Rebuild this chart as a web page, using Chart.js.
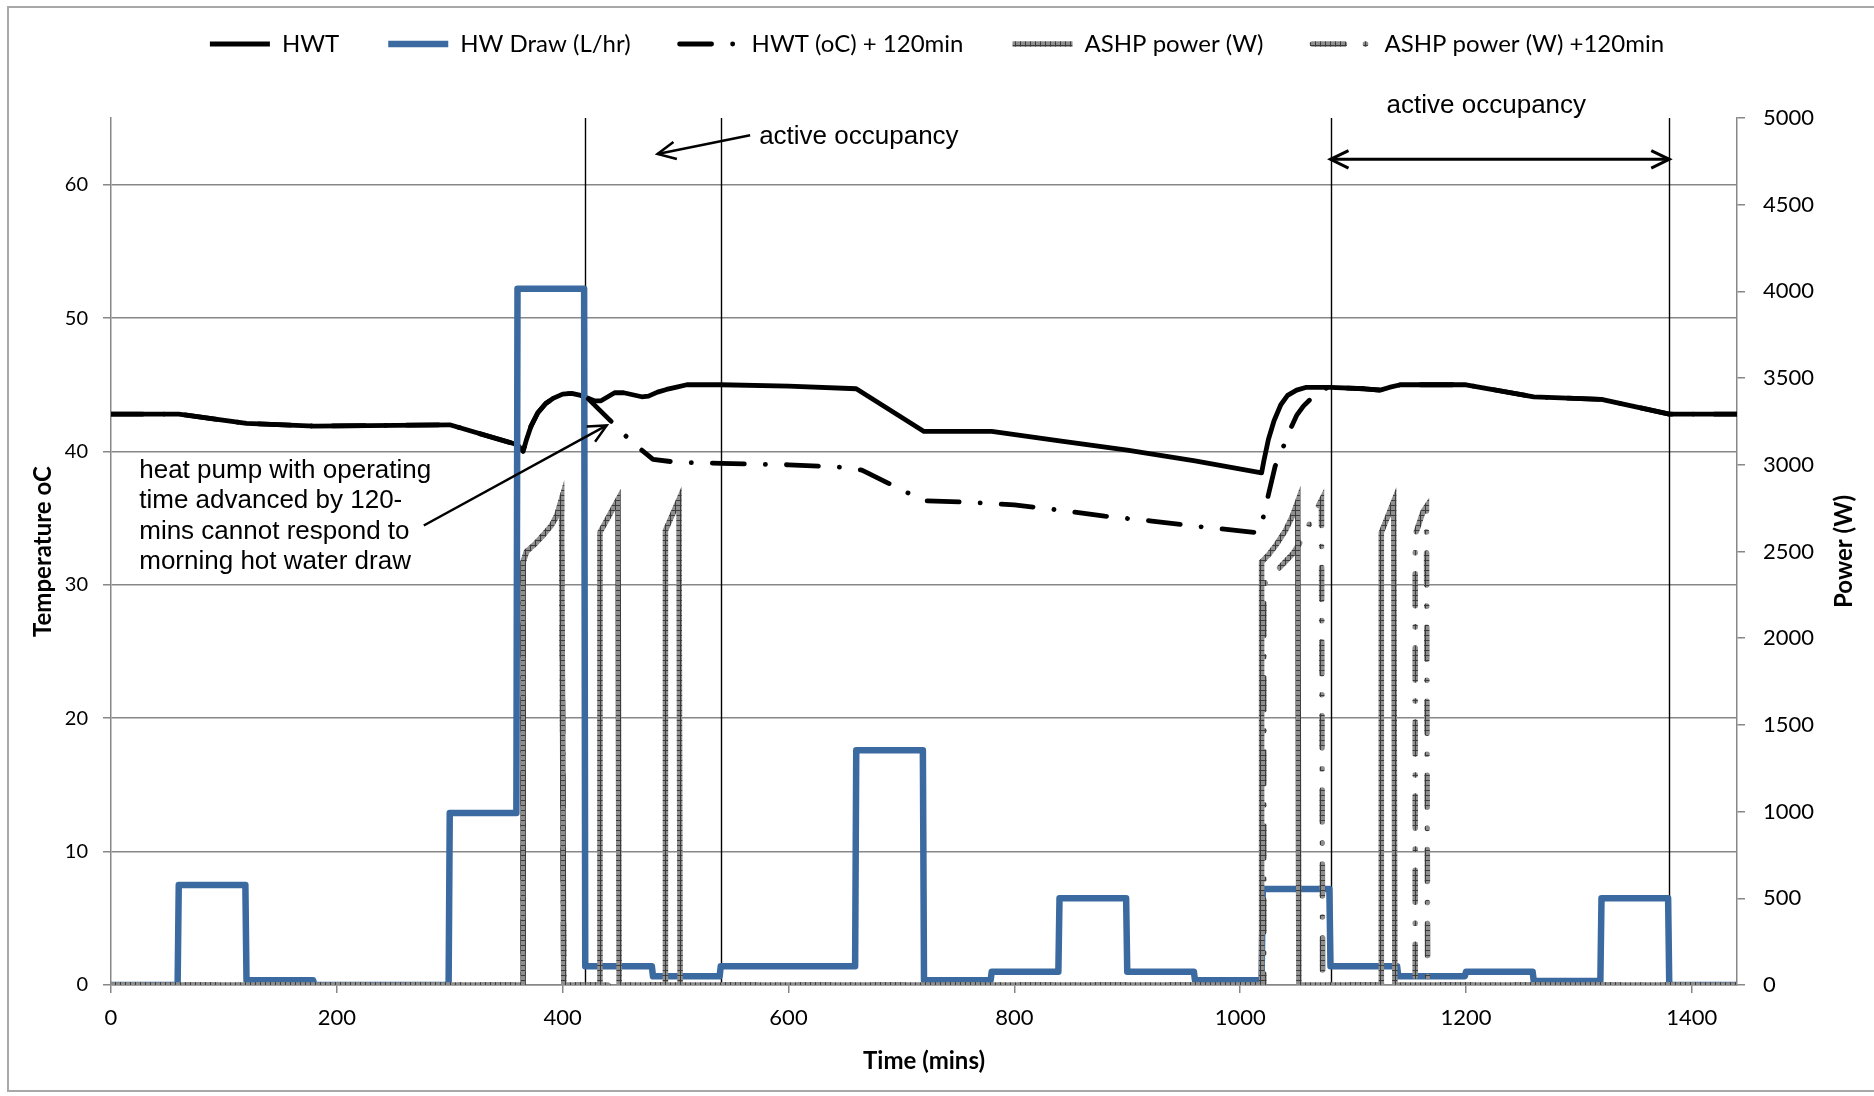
<!DOCTYPE html>
<html>
<head>
<meta charset="utf-8">
<title>Hot water tank temperature and ASHP power</title>
<script src="https://cdn.jsdelivr.net/npm/chart.js@4.4.1/dist/chart.umd.min.js"></script>
<style>
  html, body { margin: 0; padding: 0; background: #fff; }
  #wrap { width: 1874px; height: 1096px; }
</style>
</head>
<body>
<div id="wrap"><canvas id="hwtChart" width="1874" height="1096"></canvas></div>
<script>
// hot water tank temperature (oC) against time of day (mins)
const hwtMins = [0, 60, 120, 180, 300, 360, 365, 368, 372, 378, 385, 392, 400, 408, 416, 422, 428, 434, 440, 446, 454, 462, 470, 476, 484, 492, 500, 510, 540, 600, 660, 720, 780, 840, 900, 960, 1019, 1021, 1025, 1030, 1036, 1042, 1050, 1058, 1080, 1110, 1124, 1132, 1142, 1200, 1260, 1320, 1380, 1440];
const hwtTemp = [42.8, 42.8, 42.1, 41.9, 42.0, 40.5, 40.0, 40.9, 41.9, 42.9, 43.6, 44.0, 44.3, 44.35, 44.2, 44.0, 43.8, 43.8, 44.1, 44.4, 44.4, 44.25, 44.1, 44.15, 44.45, 44.65, 44.8, 45.0, 45.0, 44.9, 44.7, 41.5, 41.5, 40.8, 40.1, 39.3, 38.4, 39.3, 40.9, 42.3, 43.5, 44.2, 44.6, 44.8, 44.8, 44.7, 44.6, 44.8, 45.0, 45.0, 44.1, 43.9, 42.8, 42.8];

// tank temperature with heat pump operation advanced by 120 mins
const hwt120Mins = [0, 60, 120, 180, 300, 360, 365, 368, 372, 378, 385, 392, 400, 408, 416, 422, 446, 459, 470, 480, 500, 540, 600, 650, 665, 696, 708, 720, 760, 800, 840, 880, 920, 960, 1000, 1016, 1020, 1024, 1031, 1038, 1044, 1050, 1056, 1062, 1068, 1074, 1080, 1110, 1124, 1132, 1142, 1200, 1260, 1320, 1380, 1440];
const hwt120Temp = [42.8, 42.8, 42.1, 41.9, 42.0, 40.5, 40.0, 40.9, 41.9, 42.9, 43.6, 44.0, 44.3, 44.35, 44.2, 44.0, 42.0, 40.9, 40.1, 39.4, 39.2, 39.1, 39.0, 38.8, 38.6, 37.3, 36.8, 36.3, 36.2, 36.0, 35.6, 35.15, 34.8, 34.4, 34.05, 33.9, 34.9, 36.4, 38.9, 40.3, 41.6, 42.7, 43.4, 43.9, 44.4, 44.7, 44.8, 44.7, 44.6, 44.8, 45.0, 45.0, 44.1, 43.9, 42.8, 42.8];

// hot water draw (L/hr), hourly steps
const drawMins = [0, 59, 60, 119, 120, 179, 180, 299, 300, 359, 360, 419, 420, 479, 480, 539, 540, 659, 660, 719, 720, 779, 780, 839, 840, 899, 900, 959, 960, 1019, 1020, 1079, 1080, 1139, 1140, 1199, 1200, 1259, 1260, 1319, 1320, 1379, 1380, 1440];
const drawLph = [0, 0, 7.5, 7.5, 0.35, 0.35, 0, 0, 12.9, 12.9, 52.2, 52.2, 1.4, 1.4, 0.65, 0.65, 1.4, 1.4, 17.6, 17.6, 0.35, 0.35, 1.0, 1.0, 6.5, 6.5, 1.0, 1.0, 0.35, 0.35, 7.2, 7.2, 1.4, 1.4, 0.65, 0.65, 1.0, 1.0, 0.3, 0.3, 6.5, 6.5, 0, 0];

// air source heat pump electrical power (W)
const ashpMins = [0, 365, 365, 368, 375, 383, 390, 395, 399, 401, 433, 433, 449, 450, 491, 491, 503, 504, 1019, 1019, 1025, 1032, 1040, 1046, 1051, 1052, 1125, 1125, 1136, 1137, 1440];
const ashpW = [0, 0, 2440, 2500, 2540, 2596, 2650, 2710, 2800, 0, 0, 2610, 2800, 0, 0, 2620, 2800, 0, 0, 2440, 2480, 2540, 2620, 2700, 2790, 0, 0, 2610, 2790, 0, 0];

// heat pump power with operating time advanced by 120 mins
const ashp120Mins = [0, 365, 365, 368, 375, 383, 390, 395, 399, 401, 1021, 1021, 1047, 1056, 1063, 1072, 1073, 1155, 1155, 1156, 1162, 1165, 1166, 1440];
const ashp120W = [0, 0, 2440, 2500, 2540, 2596, 2650, 2710, 2800, 0, 0, 2310, 2490, 2583, 2683, 2798, 0, 0, 2560, 2615, 2731, 2760, 0, 0];

// axis ticks
const timeTicks = [0, 200, 400, 600, 800, 1000, 1200, 1400];
const tempTicks = [0, 10, 20, 30, 40, 50, 60];
const powerTicks = [0, 500, 1000, 1500, 2000, 2500, 3000, 3500, 4000, 4500, 5000];

// start / end of active occupancy periods (mins)
const occupancyMins = [420, 540, 1080, 1380];

const heatPumpNote = [
  "heat pump with operating",
  "time advanced by 120-",
  "mins cannot respond to",
  "morning hot water draw",
];

function pts(xs, ys) {
  return xs.map((x, i) => ({ x: x, y: ys[i] }));
}

// grey cross-hatched line texture, like the spreadsheet's patterned line
function hatch() {
  const tile = document.createElement("canvas");
  tile.width = 5;
  tile.height = 5;
  const g = tile.getContext("2d");
  g.fillStyle = "#8e8e8e";
  g.fillRect(0, 0, 5, 5);
  g.fillStyle = "#3c3c3c";
  g.fillRect(0, 0, 5, 1);
  g.fillRect(0, 0, 1, 5);
  return g.createPattern(tile, "repeat");
}

const gridGrey = "#878787";
const dashDot = [32, 21, 0.1, 21];
const tickFont = { family: "Lato", size: 22 };
const titleFont = { family: "Lato", size: 24, weight: "bold" };

const fixedTicks = (list) => (s) => {
  s.ticks = list.map((v) => ({ value: v }));
};

function arrowHead(ctx, x0, y0, x1, y1, len) {
  const a = Math.atan2(y1 - y0, x1 - x0);
  ctx.beginPath();
  ctx.moveTo(x1 - len * Math.cos(a - 0.45), y1 - len * Math.sin(a - 0.45));
  ctx.lineTo(x1, y1);
  ctx.lineTo(x1 - len * Math.cos(a + 0.45), y1 - len * Math.sin(a + 0.45));
  ctx.stroke();
}

const notes = {
  id: "notes",
  beforeDraw(chart) {
    const { ctx, width, height } = chart;
    ctx.save();
    ctx.fillStyle = "#fff";
    ctx.fillRect(0, 0, width, height);
    ctx.strokeStyle = "#a8a8a8";
    ctx.lineWidth = 2;
    ctx.beginPath();
    ctx.moveTo(width + 2, 7);
    ctx.lineTo(8, 7);
    ctx.lineTo(8, 1091);
    ctx.lineTo(width + 2, 1091);
    ctx.stroke();
    ctx.restore();
  },
  beforeDatasetsDraw(chart) {
    const { ctx, chartArea, scales } = chart;
    ctx.save();
    ctx.strokeStyle = "#000";
    ctx.lineWidth = 1.4;
    occupancyMins.forEach((m) => {
      const px = Math.round(scales.x.getPixelForValue(m)) + 0.5;
      ctx.beginPath();
      ctx.moveTo(px, chartArea.top);
      ctx.lineTo(px, chartArea.bottom);
      ctx.stroke();
    });
    ctx.restore();
  },
  afterDraw(chart) {
    const { ctx, chartArea, scales } = chart;
    const X = (v) => scales.x.getPixelForValue(v);
    const Y = (v) => scales.y.getPixelForValue(v);
    ctx.save();
    ctx.fillStyle = "#000";
    ctx.strokeStyle = "#000";
    ctx.font = '26px "Liberation Sans", Arial, sans-serif';
    ctx.textBaseline = "middle";

    // morning occupancy label with arrow pointing back
    ctx.textAlign = "left";
    ctx.fillText("active occupancy", X(574), Y(63.6));
    ctx.lineWidth = 2.5;
    ctx.beginPath();
    ctx.moveTo(X(566), Y(63.7));
    ctx.lineTo(X(484), Y(62.3));
    ctx.stroke();
    arrowHead(ctx, X(566), Y(63.7), X(484), Y(62.3), 20);

    // evening occupancy label with double arrow
    ctx.textAlign = "center";
    ctx.fillText("active occupancy", X(1218), Y(65.9));
    ctx.lineWidth = 3;
    const ya = Y(61.9);
    ctx.beginPath();
    ctx.moveTo(X(occupancyMins[2]), ya);
    ctx.lineTo(X(occupancyMins[3]), ya);
    ctx.stroke();
    arrowHead(ctx, X(occupancyMins[3]), ya, X(occupancyMins[2]), ya, 20);
    arrowHead(ctx, X(occupancyMins[2]), ya, X(occupancyMins[3]), ya, 20);

    // heat pump note
    ctx.textAlign = "left";
    heatPumpNote.forEach((line, i) => {
      ctx.fillText(line, X(25), Y(38.55) + i * 30.5);
    });
    ctx.lineWidth = 2.5;
    ctx.beginPath();
    ctx.moveTo(X(277), Y(34.45));
    ctx.lineTo(X(439), Y(41.95));
    ctx.stroke();
    arrowHead(ctx, X(277), Y(34.45), X(439), Y(41.95), 20);

    // secondary axis title, reading upwards like the primary one
    ctx.translate(chartArea.right + 107, (chartArea.top + chartArea.bottom) / 2);
    ctx.rotate(-Math.PI / 2);
    ctx.textAlign = "center";
    ctx.font = "bold 24px Lato";
    ctx.fillText("Power (W)", 0, 0);
    ctx.restore();
  },
};

const ctx = document.getElementById("hwtChart");

const chart = new Chart(ctx, {
  type: "line",
  data: {
    datasets: [
      {
        label: "HWT",
        data: pts(hwtMins, hwtTemp),
        yAxisID: "y",
        borderColor: "#000",
        borderWidth: 4.8,
        borderJoinStyle: "round",
        order: 5,
      },
      {
        label: "HW Draw (L/hr)",
        data: pts(drawMins, drawLph),
        yAxisID: "y",
        borderColor: "#3b6aa0",
        borderWidth: 6.5,
        borderJoinStyle: "round",
        order: 4,
      },
      {
        label: "HWT (oC) + 120min",
        data: pts(hwt120Mins, hwt120Temp),
        yAxisID: "y",
        borderColor: "#000",
        borderWidth: 4.8,
        borderDash: dashDot,
        borderCapStyle: "round",
        borderJoinStyle: "round",
        order: 3,
      },
      {
        label: "ASHP power (W)",
        data: pts(ashpMins, ashpW),
        yAxisID: "y2",
        borderColor: hatch(),
        borderWidth: 5.5,
        order: 2,
      },
      {
        label: "ASHP power (W) +120min",
        data: pts(ashp120Mins, ashp120W),
        yAxisID: "y2",
        borderColor: hatch(),
        borderWidth: 5.5,
        borderDash: dashDot,
        borderCapStyle: "round",
        order: 1,
      },
    ],
  },

  options: {
    responsive: false,
    devicePixelRatio: 1,
    animation: false,
    events: [],
    layout: {
      padding: { top: -17, left: 10, right: 10, bottom: 10 },
    },
    elements: {
      point: { radius: 0 },
      line: { tension: 0, fill: false },
    },

    plugins: {
      tooltip: { enabled: false },
      legend: {
        position: "top",
        align: "center",
        weight: 1000,
        labels: {
          usePointStyle: true,
          pointStyle: "line",
          pointStyleWidth: 60,
          padding: 49,
          color: "#000",
          font: { family: "Lato", size: 24 },
          sort: (a, b) => a.datasetIndex - b.datasetIndex,
          generateLabels: (c) =>
            Chart.defaults.plugins.legend.labels.generateLabels(c).map((item) => {
              const ds = c.data.datasets[item.datasetIndex];
              return Object.assign(item, {
                strokeStyle: ds.borderColor,
                lineWidth: ds.borderWidth,
                lineDash: ds.borderDash || [],
                lineCap: ds.borderCapStyle || "butt",
                pointStyle: "line",
              });
            }),
        },
      },
      // empty spacer between the legend and the plot area
      subtitle: {
        display: true,
        text: "",
        position: "top",
        weight: 500,
        font: { size: 20, lineHeight: 1 },
        padding: { top: 0, bottom: 32 },
      },
    },

    scales: {
      x: {
        type: "linear",
        min: 0,
        max: 1440,
        afterBuildTicks: fixedTicks(timeTicks),
        ticks: {
          maxRotation: 0,
          autoSkip: false,
          callback: (v) => String(v),
          color: "#000",
          font: tickFont,
          padding: 12,
        },
        grid: {
          drawOnChartArea: false,
          tickLength: 8,
          color: gridGrey,
          lineWidth: 1.5,
        },
        border: { color: gridGrey, width: 1.5 },
        title: {
          display: true,
          text: "Time (mins)",
          color: "#000",
          font: titleFont,
          padding: { top: 4, bottom: 10 },
        },
        afterFit: (s) => {
          s.height = 101;
        },
      },

      y: {
        position: "left",
        min: 0,
        max: 65,
        afterBuildTicks: fixedTicks(tempTicks),
        ticks: {
          autoSkip: false,
          color: "#000",
          font: { family: "Lato", size: 20 },
          padding: 15,
        },
        grid: {
          tickLength: 8,
          color: gridGrey,
          lineWidth: 1.5,
        },
        border: { color: gridGrey, width: 1.5 },
        title: {
          display: true,
          text: "Temperature oC",
          color: "#000",
          font: titleFont,
          padding: { top: 19, bottom: 4 },
        },
        afterFit: (s) => {
          s.width = 101;
        },
      },

      y2: {
        position: "right",
        min: 0,
        max: 5000,
        afterBuildTicks: fixedTicks(powerTicks),
        ticks: {
          autoSkip: false,
          callback: (v) => String(v),
          color: "#000",
          font: tickFont,
          padding: 18,
        },
        grid: {
          drawOnChartArea: false,
          tickLength: 8,
          color: gridGrey,
          lineWidth: 1.5,
        },
        border: { color: gridGrey, width: 1.5 },
        afterFit: (s) => {
          s.width = 127;
        },
      },
    },
  },
  plugins: [notes],
});
</script>
</body>
</html>
